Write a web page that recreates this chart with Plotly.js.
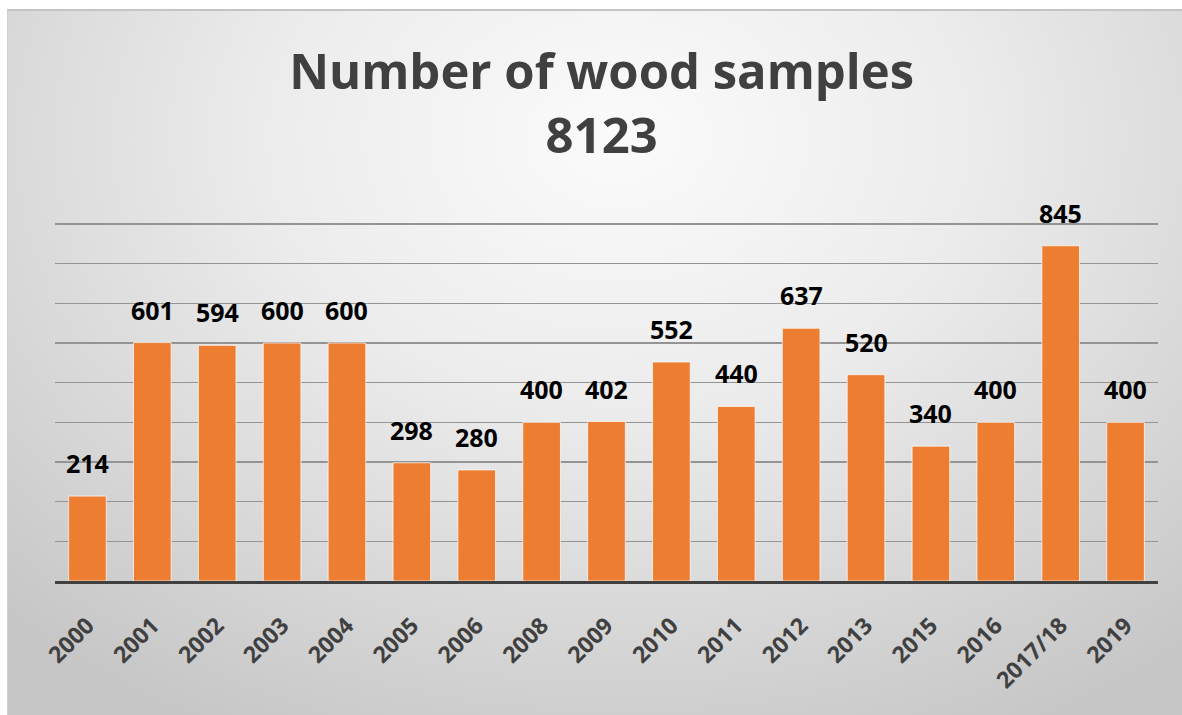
<!DOCTYPE html>
<html>
<head>
<meta charset="utf-8">
<script src="https://cdn.plot.ly/plotly-3.0.1.min.js"></script>
<style>
  html, body { margin: 0; padding: 0; background: #ffffff; width: 1182px; height: 715px; overflow: hidden; }
  #bg {
    position: absolute; left: 7px; top: 9px; width: 1175px; height: 706px;
    background: radial-gradient(ellipse 75% 95% at 52% 18%, #fbfbfb 0%, #ececec 40%, #d6d6d6 75%, #c6c6c6 100%);
    border-top: 2px solid #c4c4c4;
    border-left: 1px solid #d0d0d0;
    box-sizing: border-box;
  }
  #chart { position: absolute; left: 0; top: 0; width: 1182px; height: 715px; }
</style>
</head>
<body>
<div id="bg"></div>
<div id="chart"></div>
<script>
const categories = ["2000","2001","2002","2003","2004","2005","2006","2008","2009","2010","2011","2012","2013","2015","2016","2017/18","2019"];
const samples = [214, 601, 594, 600, 600, 298, 280, 400, 402, 552, 440, 637, 520, 340, 400, 845, 400];
const totalSamples = 8123;
const chartTitle = "Number of wood samples";

const barTrace = {
  type: "bar",
  x: categories,
  y: samples,
  marker: { color: "#ED7D31", line: { color: "rgba(255,255,255,0.7)", width: 1 } },
  hoverinfo: "x+y"
};

const labelAnnotations = categories.map((c, i) => ({
  x: i, y: samples[i], xref: "x", yref: "y",
  text: String(samples[i]),
  showarrow: false, yanchor: "bottom", yshift: 14,
  font: { family: "Open Sans, sans-serif", size: 25, color: "#000000", weight: "bold" }
}));

const layout = {
  width: 1182, height: 715,
  paper_bgcolor: "rgba(0,0,0,0)",
  plot_bgcolor: "rgba(0,0,0,0)",
  margin: { l: 55, r: 24, t: 222, b: 134 },
  title: {
    text: chartTitle + "<br>" + totalSamples,
    font: { family: "Open Sans, sans-serif", size: 49, color: "#404040", weight: "bold" },
    x: 0.509, xanchor: "center",
    yref: "container", y: 0.875, yanchor: "top"
  },
  bargap: 0.42,
  showlegend: false,
  xaxis: {
    type: "category",
    tickangle: -45,
    tickfont: { family: "Open Sans, sans-serif", size: 23, color: "#404040", weight: "bold" },
    ticklabelstandoff: 19,
    showline: true, linecolor: "#404040", linewidth: 3,
    ticks: "", showgrid: false
  },
  yaxis: {
    range: [0, 905],
    dtick: 100,
    showticklabels: false,
    gridcolor: "#949494", gridwidth: 1.5,
    zeroline: false, showline: false, ticks: ""
  },
  annotations: labelAnnotations
};

Plotly.newPlot("chart", [barTrace], layout, { displayModeBar: false, staticPlot: true });
</script>
</body>
</html>
